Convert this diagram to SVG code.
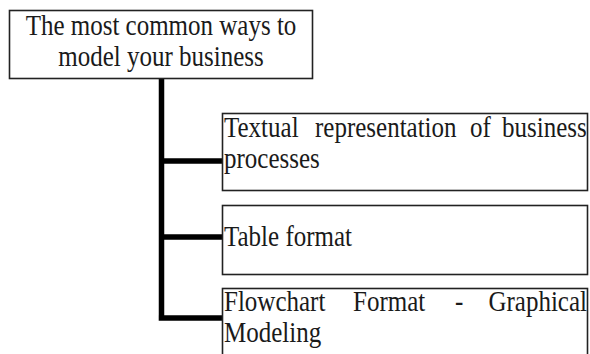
<svg xmlns="http://www.w3.org/2000/svg" width="590" height="354" viewBox="0 0 590 354">
<style>
.box{fill:#fff;stroke:#222;stroke-width:1.6}
.t{font-family:"Liberation Serif","Times New Roman",serif;font-size:25px;fill:#1a1a1a}
.c{text-anchor:middle}
.e{text-anchor:end}
.ln{fill:none;stroke:#000;stroke-width:5.5;stroke-linejoin:miter}
</style>
<rect width="590" height="354" fill="#fff"/>
<g id="connectors">
<path class="ln" d="M161.5 79 V318 M161.5 161 H222 M161.5 237 H222 M158.7 318 H222"/>
</g>
<g id="root">
<rect class="box" x="9.5" y="10.5" width="303" height="68"/>
<text class="t c" x="161" y="0" transform="matrix(1,0,0,1.14,0,35)">The most common ways to</text>
<text class="t c" x="161" y="0" transform="matrix(1,0,0,1.14,0,66)">model your business</text>
</g>
<g id="n1">
<rect class="box" x="222.5" y="113.5" width="365" height="77"/>
<text class="t" y="0" transform="matrix(1,0,0,1.14,0,137)"><tspan x="224">Textual</tspan><tspan x="315">representation</tspan><tspan x="470">of</tspan><tspan x="502">business</tspan></text>
<text class="t" x="224" y="0" transform="matrix(1,0,0,1.14,0,168)">processes</text>
</g>
<g id="n2">
<rect class="box" x="222.5" y="205.5" width="365" height="69"/>
<text class="t" x="224" y="0" transform="matrix(1,0,0,1.14,0,246)">Table format</text>
</g>
<g id="n3">
<rect class="box" x="222.5" y="288.5" width="365" height="80"/>
<text class="t" y="0" transform="matrix(1,0,0,1.14,0,311)"><tspan x="224">Flowchart</tspan><tspan x="353">Format</tspan><tspan x="455">-</tspan></text>
<text class="t e" x="587" y="0" transform="matrix(1,0,0,1.14,0,311)">Graphical</text>
<text class="t" x="224" y="0" transform="matrix(1,0,0,1.14,0,342)">Modeling</text>
</g>
</svg>
